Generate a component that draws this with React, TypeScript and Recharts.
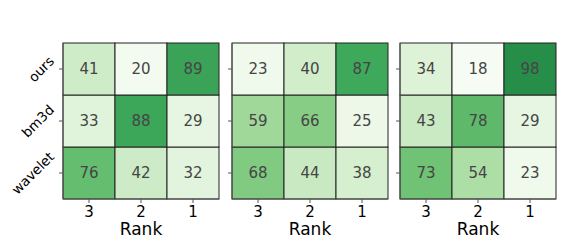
import React from "react"
import { BarChart, Bar, XAxis, YAxis } from "recharts"

const ranks = ["3", "2", "1"]
const rows = ["ours", "bm3d", "wavelet"]

// panel values, one list per row, ordered by rank 3, 2, 1
const p1Ours = [41, 20, 89]
const p1Bm3d = [33, 88, 29]
const p1Wavelet = [76, 42, 32]

const p2Ours = [23, 40, 87]
const p2Bm3d = [59, 66, 25]
const p2Wavelet = [68, 44, 38]

const p3Ours = [34, 18, 98]
const p3Bm3d = [43, 78, 29]
const p3Wavelet = [73, 54, 23]

const FONT = "DejaVu Sans, sans-serif"
const GREENS = ["#f7fcf5", "#e5f5e0", "#c7e9c0", "#a1d99b", "#74c476", "#41ab5d", "#238b45", "#006d2c", "#00441b"]

const hexToRgb = (h: string) => [1, 3, 5].map((i) => parseInt(h.slice(i, i + 2), 16))

const greens = (v: number) => {
    const t = Math.max(0, Math.min(1, (v - 17) / 110))
    const pos = t * (GREENS.length - 1)
    const i = Math.min(Math.floor(pos), GREENS.length - 2)
    const f = pos - i
    const a = hexToRgb(GREENS[i])
    const b = hexToRgb(GREENS[i + 1])
    const c = a.map((av, k) => Math.round(av + (b[k] - av) * f))
    return `rgb(${c[0]},${c[1]},${c[2]})`
}

const buildTable = (ours: number[], bm3d: number[], wavelet: number[]) =>
    ranks.map((rank, i) => ({ rank, ours: ours[i], bm3d: bm3d[i], wavelet: wavelet[i] }))

const panels = [
    buildTable(p1Ours, p1Bm3d, p1Wavelet),
    buildTable(p2Ours, p2Bm3d, p2Wavelet),
    buildTable(p3Ours, p3Bm3d, p3Wavelet),
]

const rowTicks = rows.map((_, i) => rows.length - i - 0.5)

let ctx: CanvasRenderingContext2D | null = null
const measure = (s: string, size: number) => {
    if (!ctx) ctx = document.createElement("canvas").getContext("2d")
    if (!ctx) return s.length * size * 0.58
    ctx.font = `${size}px ${FONT}`
    return ctx.measureText(s).width
}

const RowTick = ({ y, payload }: any) => {
    const idx = rowTicks.indexOf(payload.value)
    const label = rows[idx] ?? ""
    const w = measure(label, 13.5)
    const cx = 55 - (w + 10) * 0.354
    return (
        <text
            x={cx}
            y={y}
            textAnchor="middle"
            dominantBaseline="central"
            transform={`rotate(-45 ${cx} ${y})`}
            fontSize={13.5}
            fontFamily={FONT}
            fill="#000"
        >
            {label}
        </text>
    )
}

const HeatCell = (props: any) => {
    const { x, y, width, height, payload, rowKey } = props
    const v = payload[rowKey]
    return (
        <g>
            <rect x={x} y={y} width={width} height={height} fill={greens(v)} stroke="#222" strokeWidth={1} />
            <text
                x={x + width / 2}
                y={y + height / 2}
                textAnchor="middle"
                dominantBaseline="central"
                fontSize={15}
                fontFamily={FONT}
                fill="#454545"
            >
                {v}
            </text>
        </g>
    )
}

const PLOT = 156
const lefts = [63, 232, 400]

function Panel({ data, index }: { data: any[]; index: number }) {
    const axisW = index === 0 ? 63 : 20
    return (
        <div style={{ position: "absolute", left: lefts[index] - axisW, top: 0 }}>
            <BarChart
                width={axisW + PLOT + 4}
                height={43 + PLOT + 40}
                data={data}
                margin={{ top: 43, right: 4, left: 0, bottom: 0 }}
                barCategoryGap={0}
                barGap={0}
            >
                <XAxis
                    dataKey="rank"
                    type="category"
                    height={40}
                    tickSize={4}
                    tickMargin={3}
                    stroke="#555"
                    tick={{ fontSize: 15, fill: "#000", fontFamily: FONT }}
                    label={{ value: "Rank", position: "insideBottom", offset: 4, fontSize: 17, fill: "#000", fontFamily: FONT }}
                />
                <YAxis
                    type="number"
                    domain={[0, rows.length]}
                    ticks={rowTicks}
                    width={axisW}
                    tickSize={4}
                    stroke="#555"
                    tick={index === 0 ? <RowTick /> : () => <g />}
                />
                {[...rows].reverse().map((row) => (
                    <Bar
                        key={row}
                        dataKey={() => 1}
                        stackId="grid"
                        isAnimationActive={false}
                        shape={(p: any) => <HeatCell {...p} rowKey={row} />}
                    />
                ))}
            </BarChart>
        </div>
    )
}

export default function App() {
    return (
        <div style={{ position: "absolute", left: 0, top: 0, width: 565, height: 251, background: "#fff" }}>
            {panels.map((d, i) => (
                <Panel key={i} data={d} index={i} />
            ))}
        </div>
    )
}
